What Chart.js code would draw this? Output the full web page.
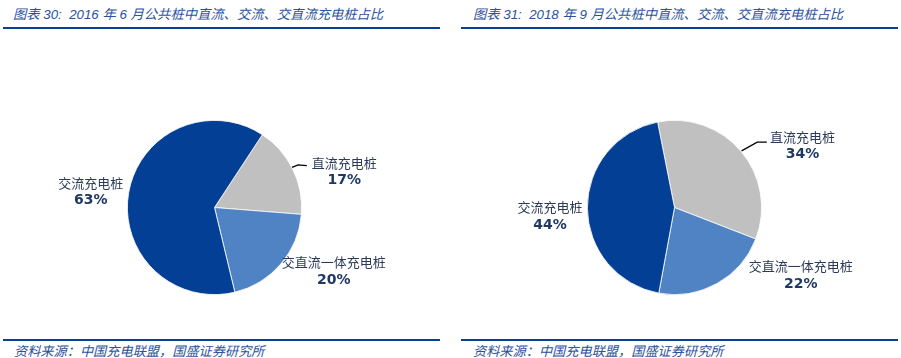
<!DOCTYPE html>
<html><head><meta charset="utf-8">
<script src="https://cdn.jsdelivr.net/npm/chart.js@4"></script>
<style>
body{margin:0;width:901px;height:358px;background:#fff;position:relative;overflow:hidden;}
.title,.src{position:absolute;font-style:italic;white-space:nowrap;color:#2a52a0;font-family:"Liberation Sans","Noto Sans CJK SC",sans-serif;}
.title{top:4px;font-size:13.3px;}
.src{top:341px;font-size:13.2px;font-family:"Noto Sans CJK SC",sans-serif;}
.rule{position:absolute;height:2px;background:#0a3f94;}
canvas{position:absolute;top:30px;}
</style></head>
<body>
<div class="title" style="left:13px">图表 30:&nbsp; 2016 年 6 月公共桩中直流、交流、交直流充电桩占比</div>
<div class="title" style="left:473px">图表 31:&nbsp; 2018 年 9 月公共桩中直流、交流、交直流充电桩占比</div>
<div class="rule" style="left:3px;width:437px;top:27px"></div>
<div class="rule" style="left:461px;width:437px;top:27px"></div>
<div class="rule" style="left:3px;width:437px;top:339px"></div>
<div class="rule" style="left:461px;width:437px;top:339px"></div>
<div class="src" style="left:14px">资料来源：中国充电联盟，国盛证券研究所</div>
<div class="src" style="left:473px">资料来源：中国充电联盟，国盛证券研究所</div>
<canvas id="c1" width="450" height="300" style="left:0"></canvas>
<canvas id="c2" width="451" height="300" style="left:450px"></canvas>
<script>
const categories = ['直流充电桩', '交直流一体充电桩', '交流充电桩'];
const share2016 = [17, 20, 63];
const share2018 = [34, 22, 44];
const sliceColors = ['#c0c0c0', '#5083c4', '#033f95'];

// label block centres in units of radius from pie centre (layout only)
const labelPos1 = [[1.49, -0.41], [1.37, 0.73], [-1.42, -0.18]];
const labelPos2 = [[1.47, -0.71], [1.45, 0.78], [-1.43, 0.10]];
const leader1 = [[0.89, -0.46], [0.96, -0.49], [1.06, -0.48]];
const leader2 = [[0.77, -0.65], [0.95, -0.75], [1.06, -0.75]];

function labelPlugin(pos, leader) {
  return {
    id: 'lbl',
    afterDatasetsDraw(chart) {
      const ctx = chart.ctx;
      const meta = chart.getDatasetMeta(0);
      const a = meta.data[0];
      const cx = a.x, cy = a.y, r = a.outerRadius;
      const data = chart.data.datasets[0].data;
      ctx.save();
      ctx.strokeStyle = '#000';
      ctx.lineWidth = 1.3;
      ctx.beginPath();
      leader.forEach((p, i) => {
        const x = cx + p[0] * r, y = cy + p[1] * r;
        if (i === 0) ctx.moveTo(x, y); else ctx.lineTo(x, y);
      });
      ctx.stroke();
      ctx.textAlign = 'center';
      ctx.textBaseline = 'middle';
      chart.data.labels.forEach((lab, i) => {
        const x = cx + pos[i][0] * r, y = cy + pos[i][1] * r;
        ctx.fillStyle = '#2b3a58';
        ctx.font = '13px "Noto Sans CJK SC"';
        ctx.fillText(lab, x, y - 9);
        ctx.fillStyle = '#1f3864';
        ctx.font = 'bold 14px "DejaVu Sans"';
        ctx.fillText(data[i] + '%', x, y + 9);
      });
      ctx.restore();
    }
  };
}

function makePie(id, values, rotation, padding, pos, leader) {
  new Chart(document.getElementById(id), {
    type: 'pie',
    data: {
      labels: categories,
      datasets: [{ data: values, backgroundColor: sliceColors, borderColor: '#ffffff', borderWidth: 0.8 }]
    },
    options: {
      responsive: false,
      animation: false,
      devicePixelRatio: 1,
      rotation: rotation,
      layout: { padding: padding },
      plugins: { legend: { display: false }, tooltip: { enabled: false } }
    },
    plugins: [labelPlugin(pos, leader)]
  });
}

makePie('c1', share2016, 33.3, { left: 127, right: 148, top: 90, bottom: 35 }, labelPos1, leader1);
makePie('c2', share2018, -11.2, { left: 137, right: 139, top: 90, bottom: 35 }, labelPos2, leader2);
</script>
</body></html>
